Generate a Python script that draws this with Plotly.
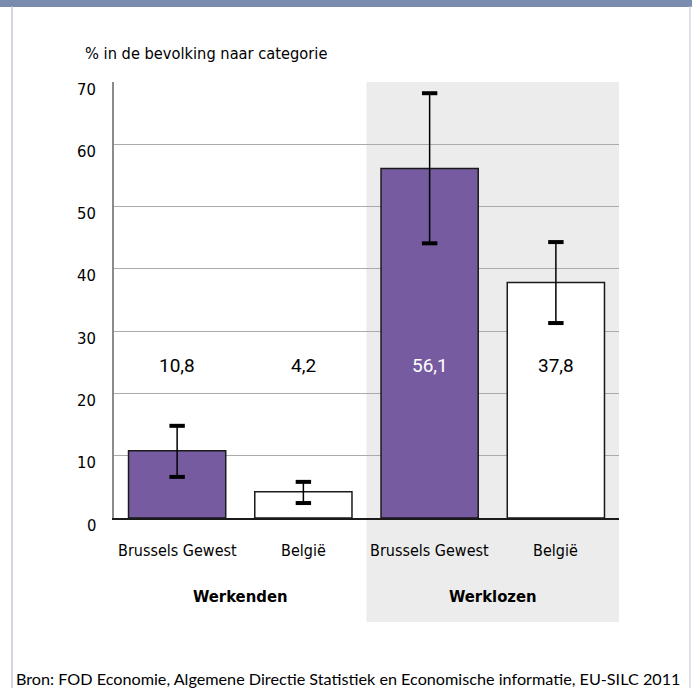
import plotly.graph_objects as go

# ---- data ----
groups = ["Werkenden", "Werklozen"]
categories = ["Brussels Gewest", "België", "Brussels Gewest", "België"]
group_of = ["Werkenden", "Werkenden", "Werklozen", "Werklozen"]
values = [10.8, 4.2, 56.1, 37.8]
ci_upper = [14.8, 5.8, 68.2, 44.3]
ci_lower = [6.6, 2.4, 44.1, 31.3]
value_labels = ["10,8", "4,2", "56,1", "37,8"]
y_ticks = [0, 10, 20, 30, 40, 50, 60, 70]
y_tick_labels = ["0", "10", "20", "30", "40", "50", "60", "70"]

title_text = "% in de bevolking naar categorie"
source_text = "Bron: FOD Economie, Algemene Directie Statistiek en Economische informatie, EU-SILC 2011"

PURPLE = "#765ba1"
bar_colors = [PURPLE if c == "Brussels Gewest" else "white" for c in categories]

COND = "DejaVu Sans Condensed, Roboto, sans-serif"
REG = "Lato, Open Sans, sans-serif"

W, H = 692, 688
L, R, T, B = 114, 73, 82, 170
PW, PH = W - L - R, H - T - B


def px_x(p):
    return (p - L) / PW


def px_y(p):
    return (H - B - p) / PH


xs = list(range(len(categories)))

fig = go.Figure()
fig.add_trace(go.Bar(
    x=xs, y=values,
    marker=dict(color=bar_colors, line=dict(color="#1a1a1a", width=1.5)),
    width=0.77,
    error_y=dict(type="data", symmetric=False,
                 array=[u - v for u, v in zip(ci_upper, values)],
                 arrayminus=[v - lo for v, lo in zip(values, ci_lower)],
                 color="black", thickness=1.5, width=0),
    hoverinfo="skip", showlegend=False,
))
# thick caps of the confidence intervals
fig.add_trace(go.Scatter(
    x=xs + xs, y=ci_upper + ci_lower, mode="markers",
    marker=dict(symbol="line-ew", size=11, line=dict(color="black", width=4)),
    hoverinfo="skip", showlegend=False,
))

LABEL_Y = 24.5
for i, (lab, v, c) in enumerate(zip(value_labels, values, bar_colors)):
    fig.add_annotation(x=i, y=LABEL_Y, xref="x", yref="y", text=lab, showarrow=False,
                       font=dict(family="Roboto, Arial, sans-serif", size=19,
                                 color="white" if (c == PURPLE and v > LABEL_Y) else "black"))

# y tick labels (sit slightly below their gridline, as in the original)
for tv, tl in zip(y_ticks, y_tick_labels):
    fig.add_annotation(x=px_x(98), y=tv, xref="paper", yref="y", text=tl, showarrow=False,
                       xanchor="right", yanchor="middle", yshift=-7,
                       font=dict(family=COND, size=16.5, color="black"))

# category labels
for i, cat in enumerate(categories):
    fig.add_annotation(x=i, y=px_y(550), xref="x", yref="paper", text=cat, showarrow=False,
                       font=dict(family=COND, size=16, color="black"), yanchor="middle")
# group labels
for g in groups:
    idx = [i for i, gg in enumerate(group_of) if gg == g]
    fig.add_annotation(x=sum(idx) / len(idx), y=px_y(596), xref="x", yref="paper",
                       text="<b>" + g + "</b>", showarrow=False,
                       font=dict(family=COND, size=16.5, color="black"), yanchor="middle")

# title and source
fig.add_annotation(x=px_x(83), y=px_y(53), xref="paper", yref="paper", text=title_text,
                   showarrow=False, xanchor="left", yanchor="middle",
                   font=dict(family=COND, size=16.3, color="black"))
fig.add_annotation(x=px_x(348), y=px_y(678), xref="paper", yref="paper", text=source_text,
                   showarrow=False, xanchor="center", yanchor="middle",
                   font=dict(family=REG, size=16.2, color="black"))

shapes = [
    # shaded Werklozen panel
    dict(type="rect", xref="paper", yref="paper", x0=0.5, x1=1.0, y0=px_y(622), y1=1.0,
         fillcolor="#ececec", line=dict(width=0), layer="below"),
    # frame
    dict(type="rect", xref="paper", yref="paper", x0=px_x(-2), x1=px_x(W + 2), y0=px_y(7), y1=px_y(-2),
         fillcolor="#7a8bb0", line=dict(width=0), layer="above"),
    dict(type="line", xref="paper", yref="paper", x0=px_x(12), x1=px_x(12), y0=px_y(6), y1=px_y(H + 2),
         line=dict(color="#b4bdd2", width=1.2)),
    dict(type="line", xref="paper", yref="paper", x0=px_x(690), x1=px_x(690), y0=px_y(6), y1=px_y(H + 2),
         line=dict(color="#c8cdd8", width=1.2)),
]

fig.update_layout(
    width=W, height=H,
    margin=dict(l=L, r=R, t=T, b=B),
    paper_bgcolor="white", plot_bgcolor="rgba(0,0,0,0)",
    shapes=shapes,
    showlegend=False,
    xaxis=dict(range=[-0.5, len(categories) - 0.5], tickvals=xs, showticklabels=False,
               showgrid=False, zeroline=False, showline=True, linecolor="#1a1a1a", linewidth=2,
               fixedrange=True),
    yaxis=dict(range=[0, 70], tickvals=y_ticks, showticklabels=False, showgrid=True,
               gridcolor="#aaaaaa", gridwidth=1.2,
               zeroline=False, showline=True, linecolor="#8a8a8a", linewidth=1.5,
               ticks="", fixedrange=True),
)

fig.write_html("out.html", config={"displayModeBar": False},
               post_script="document.body.style.margin='0';document.body.style.padding='0';")
